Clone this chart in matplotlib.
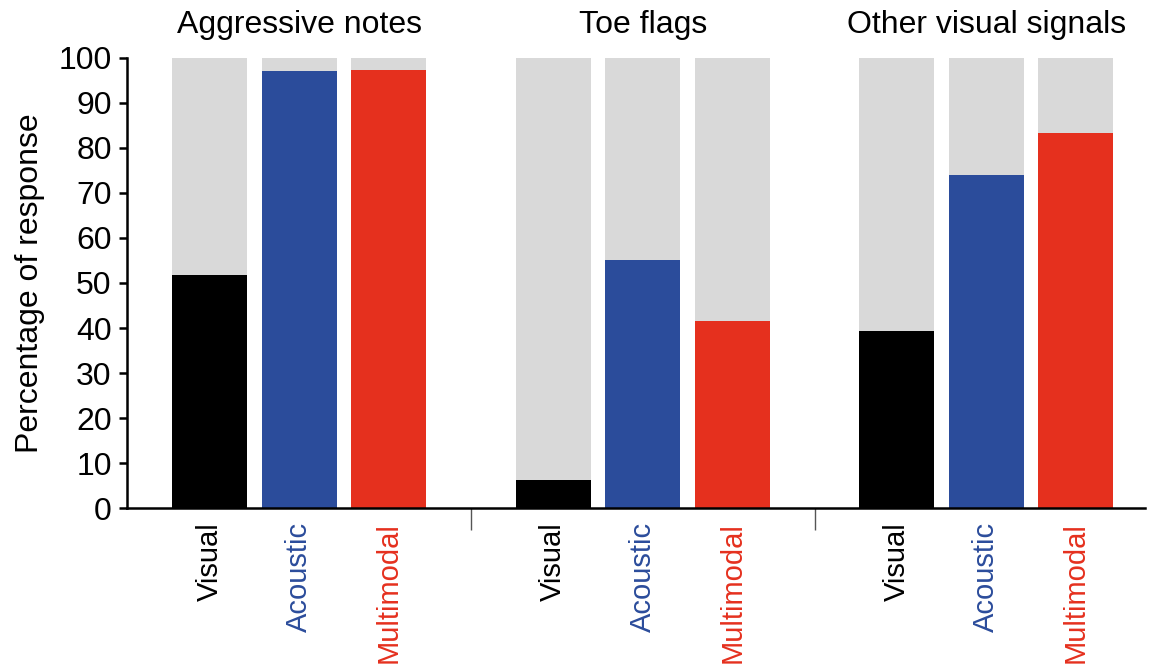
import matplotlib
matplotlib.use('Agg')
import matplotlib.pyplot as plt

# data
groups = ["Aggressive notes", "Toe flags", "Other visual signals"]
modalities = ["Visual", "Acoustic", "Multimodal"]
colors = ["#000000", "#2b4c9b", "#e5301e"]
values = [
    [51.8, 97.0, 97.4],   # Aggressive notes
    [6.2, 55.1, 41.6],    # Toe flags
    [39.3, 74.1, 83.4],   # Other visual signals
]
total = 100

plt.rcParams["font.family"] = ["Liberation Sans", "DejaVu Sans"]

fig = plt.figure(figsize=(11.54, 6.68), dpi=100)
ax = fig.add_axes([0.110, 0.2395, 0.882, 0.6737])

group_step = 3.84
bar_w = 0.84
pos, labels, lab_colors = [], [], []
for g, grp in enumerate(groups):
    for i, m in enumerate(modalities):
        x = g * group_step + i
        ax.bar(x, total, width=bar_w, color="#d9d9d9", linewidth=0)
        ax.bar(x, values[g][i], width=bar_w, color=colors[i], linewidth=0)
        pos.append(x)
        labels.append(m)
        lab_colors.append(colors[i])
    ax.text(g * group_step + 1, 1.073, grp, transform=ax.get_xaxis_transform(),
            ha="center", va="center", fontsize=23)

ax.set_ylim(0, 100)
ax.set_xlim(-0.924, 10.45)
ax.set_yticks(range(0, 101, 10))
ax.tick_params(axis="y", labelsize=23, length=6, width=1.8, pad=5)

ax.set_xticks(pos)
ax.set_xticklabels(labels, rotation=90, fontsize=21)
for t, c in zip(ax.get_xticklabels(), lab_colors):
    t.set_color(c)
ax.tick_params(axis="x", which="major", length=0, pad=10)

# separators between groups
seps = [(group_step * g + 2 + group_step * (g + 1)) / 2 for g in range(len(groups) - 1)]
ax.set_xticks(seps, minor=True)
ax.tick_params(axis="x", which="minor", length=16, width=1, color="#555555")

for s in ["top", "right"]:
    ax.spines[s].set_visible(False)
ax.spines["left"].set_linewidth(1.8)
ax.spines["bottom"].set_linewidth(1.8)

ax.set_ylabel("Percentage of response", fontsize=23, labelpad=10)

fig.savefig("out.png", dpi=100)
